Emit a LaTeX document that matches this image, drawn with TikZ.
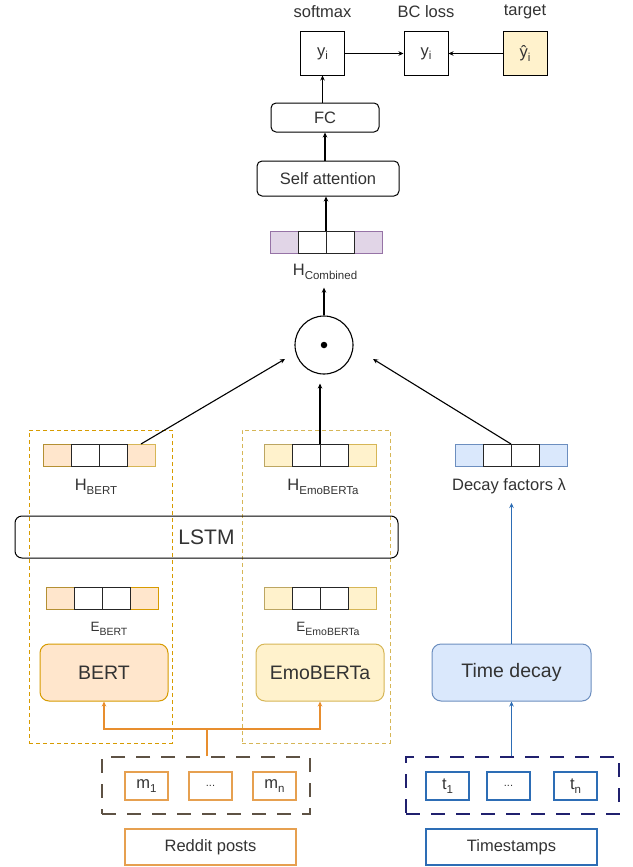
\documentclass[tikz,border=0pt]{standalone}
\usepackage{fontspec}
\setmainfont{Liberation Sans}
\usetikzlibrary{arrows.meta}
\definecolor{txt}{HTML}{333333}
\definecolor{peach}{HTML}{FFE6CC}
\definecolor{peachd}{HTML}{D79B00}
\definecolor{yel}{HTML}{FFF2CC}
\definecolor{yeld}{HTML}{D6B656}
\definecolor{lblue}{HTML}{DAE8FC}
\definecolor{lblued}{HTML}{6C8EBF}
\definecolor{lpur}{HTML}{E1D5E7}
\definecolor{lpurd}{HTML}{9673A6}
\definecolor{orl}{HTML}{E88E2E}
\definecolor{orb}{HTML}{E6A050}
\definecolor{dgray}{HTML}{5E5244}
\definecolor{navy}{HTML}{20206E}
\definecolor{bll}{HTML}{2D6DB5}
\newcommand\sbs[1]{\raisebox{-0.4ex}{\fontsize{11.5}{12}\selectfont #1}}
\newcommand\mkbar[6]{%
  \node[cellc, fill=#4, draw=#5] (#1a) at (#2+14,#3+11) {};
  \node[cellc, fill=#4, draw=#6] (#1d) at (#2+98,#3+11) {};
  \node[cellw] (#1b) at (#2+42,#3+11) {};
  \node[cellw] (#1c) at (#2+70,#3+11) {};
}
\begin{document}
\begin{tikzpicture}[x=1pt,y=-1pt,
  font=\fontsize{16.5}{19}\selectfont, text=txt,
  lbl/.style={inner sep=0pt},
  sq/.style={draw=black, line width=1pt, minimum width=44pt, minimum height=43pt, inner sep=0pt},
  rbox/.style={draw=black, line width=1pt, rounded corners=5pt, inner sep=0pt},
  cellw/.style={draw=black!85, line width=0.9pt, fill=white, minimum width=28pt, minimum height=22pt, inner sep=0pt, outer sep=0pt},
  cellc/.style={line width=0.9pt, minimum width=28pt, minimum height=22pt, inner sep=0pt, outer sep=0pt},
  arr/.style={draw=black, line width=1.1pt, -{Stealth[length=5pt,width=4.5pt]}},
  oarr/.style={draw=orl, line width=1.3pt, -{Stealth[length=5pt,width=4.5pt]}},
  barr/.style={draw=bll, line width=1.1pt, -{Stealth[length=5pt,width=4.5pt]}},
  thindash/.style={line width=1pt, dash pattern=on 4pt off 3pt, inner sep=0pt},
  thickdash/.style={line width=1.5pt, dash pattern=on 14pt off 11pt, inner sep=0pt},
  enc/.style={line width=1pt, rounded corners=9pt, minimum width=128pt, minimum height=57pt, inner sep=0pt, font=\fontsize{19.5}{22}\selectfont},
  small/.style={draw=orb, line width=1.1pt, minimum width=43pt, minimum height=28pt, inner sep=0pt},
  smallb/.style={draw=bll, line width=1.1pt, minimum width=43pt, minimum height=28pt, inner sep=0pt},
]
\useasboundingbox[fill=white] (0,0) rectangle (632,867);

% top
\node[lbl] (lsm) at (322.5,12) {softmax};
\node[lbl] (lbc) at (426,12) {BC loss};
\node[lbl] (ltg) at (525,12) {target};
\node[sq] (sm) at (322.5,53.5) {y\sbs{i}};
\node[sq] (bc) at (426,53.5) {y\sbs{i}};
\node[sq, fill=yel] (tg) at (525,53.5) {ŷ\sbs{i}};
\node[rbox, minimum width=108pt, minimum height=29pt] (fc) at (325,117.5) {FC};
\node[rbox, minimum width=142pt, minimum height=35pt] (sa) at (328,178.5) {Self attention};
\mkbar{hc}{270}{231}{lpur}{lpurd}{lpurd}
\node[lbl] (hcl) at (325,272) {H\sbs{Combined}};
\node[circle, draw=black, line width=1.1pt, minimum size=58pt, inner sep=0pt] (circ) at (324,345) {};
\node[circle, fill=black, minimum size=6.5pt, inner sep=0pt] (dot) at (circ.center) {};

\draw[arr] (sm.east) -- (bc.west);
\draw[arr] (tg.west) -- (bc.east);
\draw[arr] (fc.north -| sm.south) -- (sm.south);
\draw[arr] (sa.north -| fc.south) -- (fc.south);
\draw[arr] (hcb.north east) -- (hcb.north east |- sa.south);
\draw[arr] (circ.north) -- ([yshift=-8pt]hcl.south -| circ.north);

% middle
\node[thindash, draw=peachd, minimum width=143pt, minimum height=313pt] (dbert) at (100.5,586.5) {};
\node[thindash, draw=yeld, minimum width=148pt, minimum height=313pt] (demo) at (316,586.5) {};
\mkbar{hb}{43}{444}{peach}{peachd!60!gray}{yeld}
\mkbar{he}{264}{444}{yel}{yeld!70!gray}{yeld}
\mkbar{dc}{455}{444}{lblue}{lblued}{lblued}
\node[lbl] (hbl) at (96,487) {H\sbs{BERT}};
\node[lbl] (hel) at (323,487) {H\sbs{EmoBERTa}};
\node[lbl] (dfl) at (509,486) {Decay factors λ};
\node[draw=black, line width=1pt, rounded corners=7pt, minimum width=383pt, minimum height=42pt, inner sep=0pt, font=\fontsize{21}{24}\selectfont] (lstm) at (206.5,537) {LSTM};
\mkbar{eb}{46}{587}{peach}{peachd!60!gray}{peachd}
\mkbar{ee}{264}{587}{yel}{yeld!70!gray}{yeld}
\node[lbl] (ebl) at (109,629) {{\fontsize{13.5}{15}\selectfont E}\raisebox{-0.4ex}{\fontsize{10.5}{12}\selectfont BERT}};
\node[lbl] (eel) at (328,629) {{\fontsize{13.5}{15}\selectfont E}\raisebox{-0.4ex}{\fontsize{10.5}{12}\selectfont EmoBERTa}};

\coordinate (inL) at (285,359);
\coordinate (inR) at (373,359);
\draw[arr] (hbd.north) -- (inL);
\draw[arr, shorten >=9pt] (heb.north east) -- (heb.north east |- circ.south);
\draw[arr] (dcb.north east) -- (inR);

% encoders
\node[enc, draw=peachd, fill=peach] (bert) at (104,672.5) {BERT};
\node[enc, draw=yeld, fill=yel] (emo) at (320,672.5) {EmoBERTa};
\node[enc, draw=lblued, fill=lblue, minimum width=159pt] (tdec) at (511.5,672.5) {Time decay};

% inputs
\node[thickdash, draw=dgray, minimum width=208pt, minimum height=57pt] (rd) at (206,785.5) {};
\node[small] (m1) at (146.5,786) {m\sbs{1}};
\node[small] (md) at (210.5,786) {\fontsize{11}{12}\selectfont ...};
\node[small] (mn) at (274.5,786) {m\sbs{n}};
\node[draw=orb, line width=1.1pt, minimum width=171pt, minimum height=36pt, inner sep=0pt] (rp) at (210.5,847) {Reddit posts};

\node[thickdash, draw=navy, minimum width=213pt, minimum height=57pt] (tsd) at (512.5,785.5) {};
\node[smallb] (t1) at (447.5,786) {t\sbs{1}};
\node[smallb] (tdd) at (508.5,786) {\fontsize{11}{12}\selectfont ...};
\node[smallb] (tn) at (575.5,786) {t\sbs{n}};
\node[draw=bll, line width=1.1pt, minimum width=171pt, minimum height=36pt, inner sep=0pt] (tsb) at (511.5,847) {Timestamps};

\coordinate (jn) at (207,729);
\draw[draw=orl, line width=1.3pt] (rd.north -| jn) -- (jn);
\draw[oarr] (jn) -| (bert.south);
\draw[oarr] (jn) -| (emo.south);
\draw[barr] (tdec.south |- tsd.north) -- (tdec.south);
\draw[barr] (tdec.north) -- (tdec.north |- 0,503);
\end{tikzpicture}
\end{document}
